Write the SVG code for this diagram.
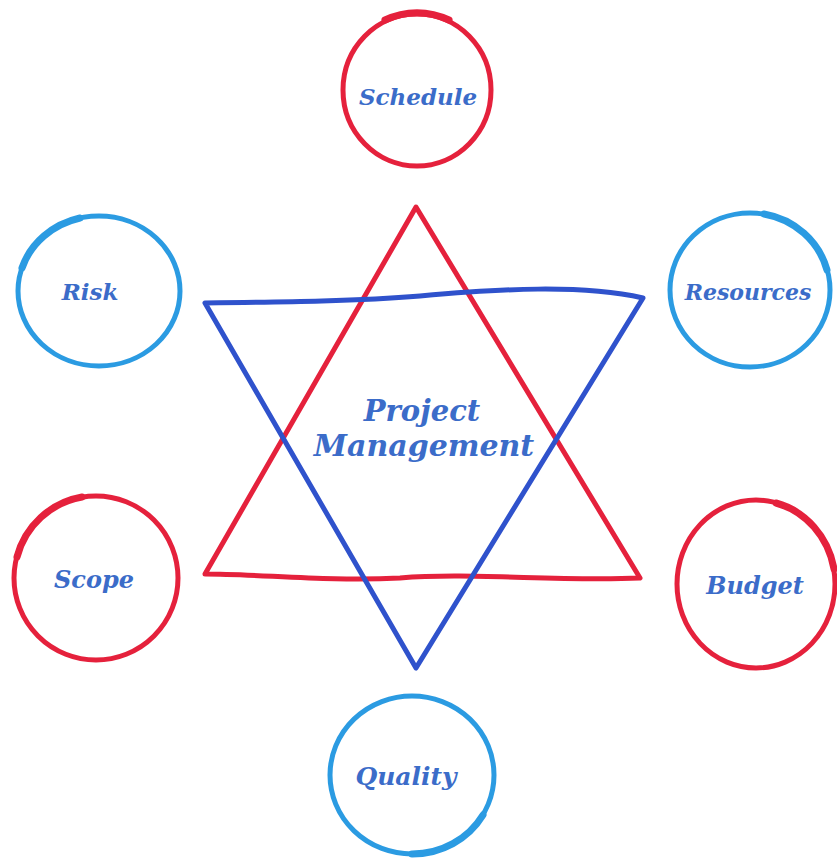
<svg xmlns="http://www.w3.org/2000/svg" width="837" height="858" viewBox="0 0 837 858">
<style>
.red{fill:none;stroke:#e5213c;stroke-width:5;stroke-linecap:round;stroke-linejoin:round}
.cyan{fill:none;stroke:#2b9be2;stroke-width:5;stroke-linecap:round}
.blue{fill:none;stroke:#2f52cc;stroke-width:5;stroke-linecap:round;stroke-linejoin:round}
.thick{stroke-width:7}
.lbl{font-family:"DejaVu Serif","Liberation Serif",serif;font-style:italic;font-weight:bold;fill:#3b6cc9;text-anchor:middle}
</style>
<rect width="837" height="858" fill="#ffffff"/>
<g id="connectors">
<path class="red" d="M416,207 L640,578 C560,582 470,572 400,578 C330,582 260,574 205,574 Z"/>
<path class="blue" d="M205,303 C290,302 360,301 420,296 C500,289 580,284 643,298 L416,668 Z"/>
</g>
<g id="center">
<text class="lbl" x="422" y="421" font-size="29">Project</text>
<text class="lbl" x="424" y="456" font-size="30">Management</text>
</g>
<g id="schedule">
<ellipse class="red" cx="417" cy="90" rx="74" ry="76"/>
<path class="red thick" d="M385,20 A75,77 0 0,1 449,20"/>
<text class="lbl" x="418" y="105" font-size="23">Schedule</text>
</g>
<g id="risk">
<ellipse class="cyan" cx="99" cy="291" rx="81" ry="75"/>
<path class="cyan thick" d="M22,268 A81,75 0 0,1 80,218"/>
<text class="lbl" x="90" y="300" font-size="23">Risk</text>
</g>
<g id="resources">
<ellipse class="cyan" cx="750" cy="290" rx="80" ry="77"/>
<path class="cyan thick" d="M764,214 A80,77 0 0,1 827,270"/>
<text class="lbl" x="748" y="300" font-size="22">Resources</text>
</g>
<g id="scope">
<ellipse class="red" cx="96" cy="578" rx="82" ry="82"/>
<path class="red thick" d="M17,557 A82,82 0 0,1 82,497"/>
<text class="lbl" x="94" y="588" font-size="24">Scope</text>
</g>
<g id="budget">
<ellipse class="red" cx="756" cy="584" rx="79" ry="84"/>
<path class="red thick" d="M776,503 A79,84 0 0,1 834,569"/>
<text class="lbl" x="755" y="594" font-size="24">Budget</text>
</g>
<g id="quality">
<ellipse class="cyan" cx="412" cy="775" rx="82" ry="79"/>
<path class="cyan thick" d="M412,854 A82,79 0 0,0 483,815"/>
<text class="lbl" x="406" y="785" font-size="25">Quality</text>
</g>
</svg>
